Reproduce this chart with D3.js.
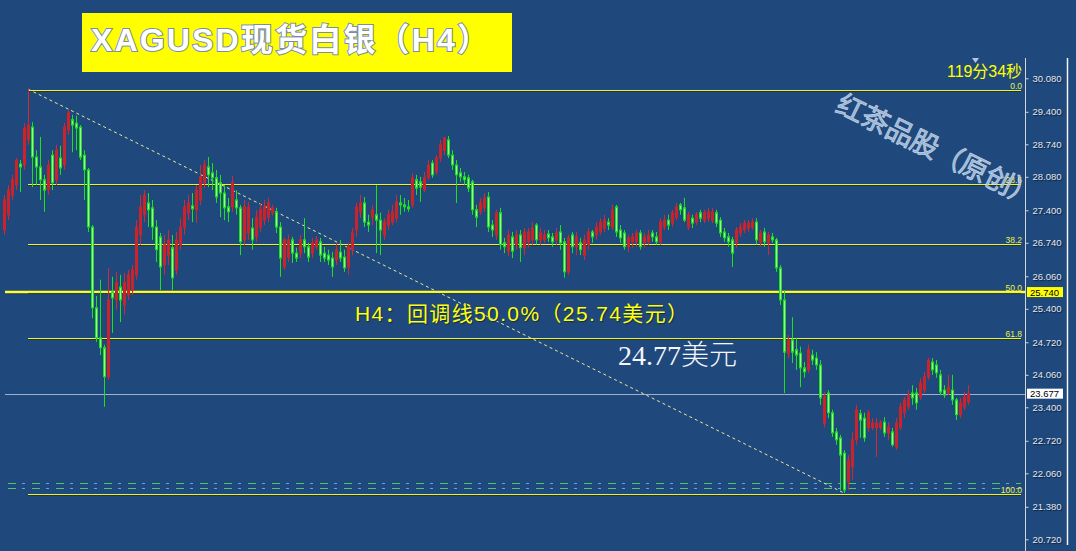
<!DOCTYPE html>
<html><head><meta charset="utf-8">
<script src="https://cdn.jsdelivr.net/npm/d3@7"></script>
<style>
html,body{margin:0;padding:0;background:#1f497d;overflow:hidden}
svg{display:block}
</style>
</head><body>
<svg id="c" width="1076" height="551"></svg>
<script>
// ---- DATA (XAGUSD H4 candles) ----
const opens=[27.00,27.31,27.71,27.91,28.34,28.32,28.83,29.09,28.48,28.28,
28.02,27.81,28.52,28.02,28.46,28.32,29.03,29.24,29.17,29.09,
28.52,28.22,27.06,25.42,24.81,24.61,24.02,25.74,25.58,25.84,
25.48,25.68,25.78,26.09,26.90,27.31,27.55,27.45,27.06,26.86,
26.29,26.49,26.64,26.19,26.70,27.06,27.35,27.49,27.41,27.61,
27.96,28.28,28.16,28.06,27.96,27.75,27.47,27.47,27.61,27.45,
26.80,26.94,27.04,26.86,27.06,27.20,27.26,27.35,27.37,27.06,
26.25,26.45,26.80,26.53,26.53,26.80,26.66,26.53,26.66,26.76,
26.53,26.49,26.43,26.39,26.55,26.45,26.25,26.60,27.00,27.37,
27.55,27.16,27.26,27.31,27.20,26.90,27.10,27.16,27.24,27.55,
27.51,27.47,27.51,28.02,27.98,27.81,28.06,28.36,28.18,28.46,
28.62,28.83,28.52,28.32,28.16,28.08,28.06,27.98,27.41,27.37,
27.45,27.67,27.10,26.90,27.35,26.74,26.57,26.86,26.70,26.90,
26.64,26.76,26.80,27.10,26.80,26.80,26.92,26.86,26.80,26.96,
26.76,26.15,26.90,26.66,26.74,26.49,26.70,26.96,26.90,26.96,
27.04,27.16,27.06,27.47,27.00,26.94,26.66,26.76,26.76,26.94,
26.74,26.76,26.94,26.86,26.76,27.06,27.20,27.14,27.26,27.51,
27.45,27.06,27.24,27.16,27.35,27.20,27.24,27.20,27.35,27.20,
26.96,26.86,26.80,26.74,26.94,27.00,27.04,27.06,27.16,26.76,
26.96,26.74,26.86,26.80,26.23,25.58,24.50,24.77,24.57,24.50,
24.20,24.16,24.46,24.40,24.26,23.08,23.69,23.29,22.90,22.78,
22.47,21.89,22.19,22.74,23.27,23.18,22.99,22.99,22.99,22.99,
23.10,22.88,22.90,22.60,22.99,23.29,23.41,23.69,23.69,23.61,
23.75,24.02,24.32,24.26,24.06,23.75,23.69,23.75,23.55,23.25,
23.41,23.51];
const highs=[27.71,27.91,28.12,28.46,28.42,29.17,29.86,29.19,28.62,28.89,
28.12,28.42,28.62,28.73,28.71,29.17,29.44,29.34,29.32,29.13,
28.62,28.26,27.10,25.66,25.99,24.67,26.23,26.05,26.15,26.09,
26.13,26.19,26.29,27.20,27.71,27.81,27.75,27.61,27.20,26.94,
26.90,27.00,26.90,26.96,27.24,27.61,27.71,27.75,27.91,28.32,
28.42,28.48,28.36,28.22,28.12,27.91,27.65,28.10,27.81,27.51,
27.61,27.57,27.24,27.41,27.55,27.61,27.65,27.51,27.45,27.16,
26.84,26.90,26.86,26.64,26.90,27.24,26.74,26.84,26.88,26.84,
26.66,26.60,26.55,26.74,26.80,26.60,26.74,27.04,27.55,27.71,
27.67,27.31,27.51,27.91,27.35,27.24,27.41,27.51,27.71,27.71,
27.65,27.61,28.16,28.12,28.08,28.18,28.42,28.42,28.52,28.83,
28.89,28.91,28.62,28.42,28.26,28.18,28.12,28.02,27.51,27.65,
27.75,27.77,27.20,27.41,27.45,26.84,27.00,26.96,27.00,27.00,
27.04,27.04,27.16,27.14,27.04,27.00,27.00,26.94,27.04,27.10,
26.84,26.90,26.96,26.96,26.84,26.90,27.04,27.00,27.16,27.24,
27.31,27.24,27.51,27.51,27.10,27.00,26.90,26.94,27.00,27.00,
26.94,27.00,27.00,26.96,27.24,27.31,27.31,27.41,27.55,27.55,
27.65,27.37,27.31,27.37,27.41,27.41,27.45,27.45,27.41,27.26,
27.04,26.94,26.86,27.06,27.14,27.20,27.20,27.24,27.24,27.00,
27.04,26.96,26.94,26.84,26.29,25.78,24.87,25.23,24.81,24.63,
24.32,24.67,24.57,24.52,24.36,23.71,23.75,23.35,22.98,22.84,
22.53,22.43,22.90,23.45,23.35,23.29,23.35,23.18,23.18,23.14,
23.20,23.10,22.98,23.18,23.49,23.61,23.75,23.85,23.79,23.99,
24.12,24.40,24.40,24.36,24.16,23.85,24.06,24.06,23.59,23.59,
23.71,23.85];
const lows=[26.90,27.20,27.61,27.81,27.77,28.22,28.73,27.87,27.91,27.61,
27.37,27.71,27.81,27.91,28.12,28.22,28.93,28.58,28.62,28.42,
27.61,26.96,25.21,24.73,24.46,23.41,23.96,24.91,25.38,25.13,
25.28,25.58,25.68,25.99,26.70,27.16,27.06,26.80,26.35,25.78,
26.09,26.29,25.78,26.09,26.60,26.90,27.20,27.16,27.14,27.51,
27.85,27.87,27.81,27.55,27.26,27.20,27.16,27.37,27.31,26.49,
26.70,26.80,26.60,26.76,26.96,27.10,27.16,27.29,26.94,26.05,
26.19,26.35,26.33,26.35,26.43,26.53,26.35,26.43,26.60,26.35,
26.35,26.29,26.05,26.29,26.35,26.15,26.09,26.49,26.86,27.24,
27.06,26.96,27.10,26.53,26.49,26.80,27.00,27.10,27.16,27.31,
27.37,27.37,27.45,27.71,27.57,27.77,28.02,28.06,28.12,28.38,
28.52,28.46,28.22,27.55,27.98,27.91,27.77,27.31,27.06,27.31,
27.37,26.96,26.86,26.80,26.60,26.53,26.47,26.43,26.60,26.35,
26.49,26.64,26.70,26.70,26.70,26.74,26.76,26.66,26.70,26.60,
26.03,26.09,26.53,26.49,26.49,26.39,26.60,26.74,26.80,26.90,
26.96,27.00,27.00,26.86,26.74,26.60,26.55,26.64,26.66,26.60,
26.64,26.70,26.76,26.70,26.70,27.00,27.00,27.06,27.20,27.31,
27.16,27.00,27.04,27.10,27.16,27.14,27.16,27.14,27.06,26.86,
26.76,26.66,26.25,26.64,26.86,26.94,26.96,27.00,26.70,26.66,
26.66,26.49,26.74,26.15,25.48,23.69,24.40,24.30,24.16,23.81,
24.00,24.10,24.26,24.16,23.45,22.99,23.18,22.80,22.64,21.72,
21.66,21.72,21.93,22.64,22.78,22.70,22.90,22.94,22.39,22.94,
22.80,22.74,22.60,22.54,22.94,23.18,23.35,23.45,23.35,23.55,
23.69,23.96,24.06,24.00,23.65,23.59,23.65,23.45,23.14,23.18,
23.35,23.45];
const closes=[27.61,27.81,28.02,28.42,28.28,29.07,29.13,28.48,28.28,28.02,
27.81,28.32,27.96,28.62,28.26,29.09,29.38,29.13,29.07,28.48,
28.22,27.06,25.42,24.81,24.61,24.02,25.58,25.62,25.93,25.58,
25.93,26.09,26.19,27.06,27.47,27.71,27.41,27.06,26.60,26.25,
26.70,26.80,26.03,26.80,27.06,27.47,27.55,27.43,27.81,28.08,
28.32,28.12,28.06,27.67,27.75,27.45,27.37,27.96,27.45,26.76,
27.47,27.47,26.80,27.26,27.41,27.47,27.55,27.45,27.06,26.43,
26.80,26.80,26.53,26.43,26.80,26.66,26.45,26.74,26.80,26.49,
26.43,26.39,26.25,26.60,26.43,26.23,26.66,26.94,27.47,27.55,
27.16,27.10,27.41,27.20,27.00,27.16,27.31,27.37,27.57,27.51,
27.47,27.43,28.06,27.85,27.87,28.06,28.32,28.12,28.46,28.73,
28.87,28.52,28.32,28.12,28.08,28.02,27.85,27.41,27.26,27.55,
27.65,27.06,27.00,27.35,26.70,26.66,26.90,26.57,26.90,26.64,
26.96,26.96,27.04,26.80,26.94,26.90,26.84,26.76,26.94,26.74,
26.15,26.84,26.66,26.86,26.60,26.80,26.96,26.86,27.06,27.16,
27.20,27.10,27.41,26.96,26.84,26.66,26.84,26.86,26.94,26.66,
26.86,26.90,26.86,26.76,27.16,27.20,27.10,27.35,27.47,27.41,
27.20,27.31,27.14,27.31,27.24,27.35,27.37,27.37,27.14,26.94,
26.84,26.76,26.53,27.00,27.06,27.14,27.14,27.16,26.80,26.94,
26.76,26.90,26.80,26.23,25.58,24.52,24.77,24.52,24.46,24.20,
24.12,24.57,24.36,24.26,23.59,23.61,23.29,22.88,22.74,22.43,
21.72,22.33,22.74,23.35,23.14,22.78,23.29,23.08,23.08,23.08,
22.88,23.00,22.64,23.08,23.41,23.55,23.65,23.59,23.49,23.89,
24.02,24.36,24.16,24.10,23.71,23.65,23.81,23.55,23.25,23.49,
23.61,23.68];
const yTicks=[30.08,29.40,28.74,28.08,27.40,26.74,26.06,25.40,24.72,24.06,23.40,22.72,22.06,21.38,20.72];
const fibRatios=[0,23.6,38.2,50,61.8,100];
const fibLabels=["0.0","23.6","38.2","50.0","61.8","100.0"];
const fibHigh=29.86, fibLow=21.66;       // swing high / low
const fibHighIdx=6, fibLowIdx=210;       // candles of the swing
const hLine50=25.74;                     // thick 50% line
const bidPrice=23.677;
const greenLevels=[21.86,21.76];         // dash-dot lines
const titleText="XAGUSD现货白银（H4）";
const noteText="H4：回调线50.0%（25.74美元）";
const priceNum="24.77", priceUnit="美元";
const timerText="119分34秒";
const watermark="红茶品股（原创）";

// ---- DRAW ----
const svg=d3.select("#c");
const N=closes.length;
const x=d3.scaleLinear().domain([0,N-1]).range([4,968]);
const y=d3.scaleLinear().domain([20.72,30.08]).range([539.3,78.3]);
const px=v=>Math.round(v);
const evenRow=v=>2*Math.round(v/2)+0.5;   // crisp 1px line on an even pixel row
const axisX=1025, lineEnd=1021;

svg.append("rect").attr("width",1076).attr("height",551).attr("fill","#1f497d");

// green dash-dot lines near the bottom
greenLevels.forEach(v=>{
  const yy=Math.round(y(v))+0.5;
  svg.append("line").attr("x1",8).attr("x2",lineEnd).attr("y1",yy).attr("y2",yy)
    .attr("stroke","#4fc46a").attr("stroke-width",1).attr("stroke-dasharray","8,16");
  svg.append("line").attr("x1",8+14).attr("x2",lineEnd).attr("y1",yy).attr("y2",yy)
    .attr("stroke","#58a8d8").attr("stroke-width",1).attr("stroke-dasharray","3,21");
});

// bid line
svg.append("line").attr("x1",5).attr("x2",axisX).attr("y1",Math.round(y(bidPrice))+0.5).attr("y2",Math.round(y(bidPrice))+0.5)
  .attr("stroke","#9fb0c8").attr("stroke-width",1);

// thick 50% line
svg.append("line").attr("x1",5).attr("x2",axisX).attr("y1",y(hLine50)+1.5).attr("y2",y(hLine50)+1.5)
  .attr("stroke","#14304f").attr("stroke-width",1.5).attr("opacity",0.6);
svg.append("line").attr("x1",5).attr("x2",axisX).attr("y1",y(hLine50)).attr("y2",y(hLine50))
  .attr("stroke","#ffff30").attr("stroke-width",2.6);

// fibonacci lines
const fibPrice=r=>fibHigh-(fibHigh-fibLow)*r/100;
fibRatios.forEach((r,i)=>{
  const yy=evenRow(y(fibPrice(r)));
  svg.append("line").attr("x1",x(fibHighIdx)).attr("x2",lineEnd).attr("y1",yy+1).attr("y2",yy+1)
    .attr("stroke","#10263f").attr("stroke-width",1).attr("opacity",0.55);
  svg.append("line").attr("x1",x(fibHighIdx)).attr("x2",lineEnd).attr("y1",yy).attr("y2",yy)
    .attr("stroke","#f4f41c").attr("stroke-width",1);
  svg.append("text").attr("x",lineEnd+1).attr("y",yy-2).attr("text-anchor","end")
    .attr("font-family","Liberation Sans, Arial, sans-serif").attr("font-size",8.5)
    .attr("fill","#f0f040").text(fibLabels[i]);
});

// diagonal dashed trend line
svg.append("line").attr("x1",x(fibHighIdx)).attr("y1",y(fibHigh)).attr("x2",x(fibLowIdx)).attr("y2",y(fibLow))
  .attr("stroke","#eaea9a").attr("stroke-width",1).attr("stroke-dasharray","3,3");

// candles
const data=d3.range(N).map(i=>({i,o:opens[i],h:highs[i],l:lows[i],c:closes[i]}));
const g=svg.append("g");
const cs=g.selectAll("g").data(data).join("g");
cs.append("line")
  .attr("x1",d=>px(x(d.i))+0.5).attr("x2",d=>px(x(d.i))+0.5)
  .attr("y1",d=>y(d.h)).attr("y2",d=>y(d.l))
  .attr("stroke",d=>d.c>=d.o?"#d8262e":"#1ee01e").attr("stroke-width",1);
cs.append("rect")
  .attr("x",d=>px(x(d.i))-0.5).attr("width",2)
  .attr("y",d=>y(Math.max(d.o,d.c))).attr("height",d=>Math.max(1,Math.abs(y(d.o)-y(d.c))))
  .attr("fill",d=>d.c>=d.o?"#cc2229":"#a6f5a0")
  .attr("stroke",d=>d.c>=d.o?"#cc2229":"#1ee01e").attr("stroke-width",1);

// axis
svg.append("line").attr("x1",axisX+0.5).attr("x2",axisX+0.5).attr("y1",58).attr("y2",551)
  .attr("stroke","#d0d6e0").attr("stroke-width",1);
svg.append("line").attr("x1",1067.5).attr("x2",1067.5).attr("y1",58).attr("y2",545)
  .attr("stroke","#f2f4f8").attr("stroke-width",1.5);
const ax=svg.append("g").attr("transform",`translate(${axisX+0.5},0)`)
  .call(d3.axisRight(y).tickValues(yTicks).tickFormat(d3.format(".3f")).tickSize(3).tickSizeOuter(0).tickPadding(4));
ax.select(".domain").remove();
ax.selectAll("line").attr("stroke","#d0d6e0");
ax.selectAll("text").attr("fill","#e4e8f0").attr("font-size",9.5)
  .attr("font-family","Liberation Sans, Arial, sans-serif")
  .style("text-shadow","1px 1px 1px #0b1e38");

// price tags
function tag(v,bg,txt){
  const yy=y(v);
  svg.append("rect").attr("x",1027).attr("y",yy-5).attr("width",36).attr("height",10).attr("fill",bg);
  svg.append("text").attr("x",1030).attr("y",yy+3.6).attr("font-family","Liberation Sans, Arial, sans-serif")
    .attr("font-size",9.5).attr("fill",txt).text(d3.format(".3f")(v));
}
tag(hLine50,"#ffff00","#000");
tag(bidPrice,"#ffffff","#000");

// timer and marker
svg.append("path").attr("d","M972,58 L979,58 L975.5,63 Z").attr("fill","#b8c4d8");
svg.append("text").attr("x",947).attr("y",77).attr("font-family","Liberation Sans, Noto Sans CJK SC, sans-serif")
  .attr("font-size",16).attr("fill","#ffff00").attr("textLength",75).attr("lengthAdjust","spacing").text(timerText);

// watermark
svg.append("text").attr("transform","translate(834,111) rotate(26)")
  .attr("font-family","Noto Sans CJK SC, sans-serif").attr("font-size",28)
  .attr("fill","#a6bddc").attr("stroke","#d8e4f4").attr("stroke-width",0.7).attr("opacity",0.9)
  .attr("textLength",220).attr("lengthAdjust","spacing")
  .text(watermark);

// title box
svg.append("rect").attr("x",82).attr("y",13).attr("width",430).attr("height",59).attr("fill","#ffff00");
svg.append("text").attr("x",91).attr("y",51)
  .attr("font-family","Liberation Sans, Noto Sans CJK SC, sans-serif").attr("font-weight","bold").attr("font-size",32)
  .attr("fill","#ffffff").attr("stroke","#7a8caa").attr("stroke-width",2).attr("paint-order","stroke")
  .attr("textLength",398).attr("lengthAdjust","spacing").text(titleText);

// annotation texts
svg.append("text").attr("x",355).attr("y",321)
  .attr("font-family","Liberation Sans, Noto Sans CJK SC, sans-serif").attr("font-size",21)
  .attr("fill","#ffff10").style("text-shadow","1px 1px 1px #142a48")
  .attr("textLength",333).attr("lengthAdjust","spacing").text(noteText);
const pt=svg.append("text").attr("x",618).attr("y",365).attr("fill","#f4f6fa").attr("font-size",28);
pt.append("tspan").attr("font-family","Liberation Serif, DejaVu Serif, serif").text(priceNum);
pt.append("tspan").attr("font-family","Noto Sans CJK SC, sans-serif").attr("font-weight",300).text(priceUnit);
</script>
</body></html>
